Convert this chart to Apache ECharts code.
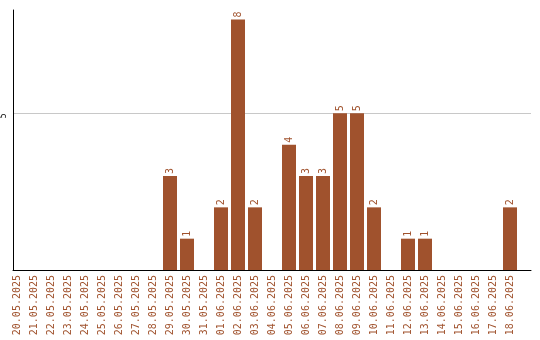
<!DOCTYPE html>
<html><head><meta charset="utf-8">
<script src="https://cdn.jsdelivr.net/npm/echarts@6/dist/echarts.min.js"></script>
<style>html,body{margin:0;padding:0;background:#fff}#c{width:540px;height:340px}</style>
</head><body><div id="c"></div>
<script>
const categories = ["20.05.2025","21.05.2025","22.05.2025","23.05.2025","24.05.2025","25.05.2025","26.05.2025","27.05.2025","28.05.2025","29.05.2025","30.05.2025","31.05.2025","01.06.2025","02.06.2025","03.06.2025","04.06.2025","05.06.2025","06.06.2025","07.06.2025","08.06.2025","09.06.2025","10.06.2025","11.06.2025","12.06.2025","13.06.2025","14.06.2025","15.06.2025","16.06.2025","17.06.2025","18.06.2025"];
const values = [0,0,0,0,0,0,0,0,0,3,1,0,2,8,2,0,4,3,3,5,5,2,0,1,1,0,0,0,0,2];
const yTicks = [5];
const yMax = 8.3;

const color = '#A0522D';
const font = 'DejaVu Sans Mono';
const chart = echarts.init(document.getElementById('c'));
chart.setOption({
  animation: false,
  grid: [
    {left: 11, right: 9, top: 10, bottom: 70},
    {left: 8.5, width: 510, top: 10, bottom: 70}
  ],
  xAxis: [
    {gridIndex: 0, type: 'value', min: 0, max: 1,
     axisLine: {show: true, lineStyle: {color: '#000', width: 1}},
     axisTick: {show: false}, axisLabel: {show: false}, splitLine: {show: false}},
    {gridIndex: 1, type: 'category', data: categories,
     axisLine: {show: false}, axisTick: {show: false}, splitLine: {show: false},
     axisLabel: {interval: 0, rotate: 90, color: color, fontFamily: font, fontSize: 10, margin: 5}}
  ],
  yAxis: [
    {gridIndex: 0, type: 'value', min: 0, max: yMax, interval: 5,
     axisLine: {show: true, lineStyle: {color: '#000', width: 1}},
     axisTick: {show: false},
     axisLabel: {rotate: 90, align: 'right', verticalAlign: 'bottom', color: '#000', fontFamily: font, fontSize: 8, margin: 5,
       formatter: v => yTicks.includes(v) ? String(v) : ''},
     splitLine: {show: true, showMaxLine: false, showMinLine: false, lineStyle: {color: '#c8c8c8', width: 1}}},
    {gridIndex: 1, type: 'value', min: 0, max: yMax, show: false}
  ],
  series: [{
    type: 'bar', xAxisIndex: 1, yAxisIndex: 1, data: values, barWidth: 14,
    itemStyle: {color: color},
    label: {show: true, position: 'top', rotate: 90, align: 'left', verticalAlign: 'middle',
      distance: 2, color: color, fontFamily: font, fontSize: 10,
      formatter: p => p.value ? String(p.value) : ''}
  }]
});
</script></body></html>
